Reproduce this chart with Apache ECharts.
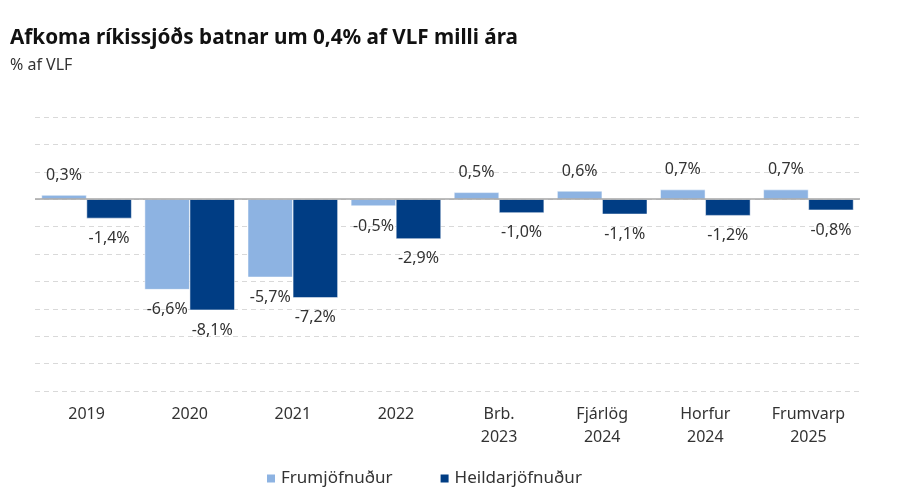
<!DOCTYPE html>
<html><head><meta charset="utf-8">
<script src="https://cdn.jsdelivr.net/npm/echarts@6/dist/echarts.min.js"></script>
<style>html,body{margin:0;padding:0;background:#fff}#c{width:900px;height:496px}</style>
</head><body><div id="c"></div>
<script>
const categories = ['2019', '2020', '2021', '2022', 'Brb.\n2023', 'Fjárlög\n2024', 'Horfur\n2024', 'Frumvarp\n2025'];
const frumjofnudur = [0.3, -6.6, -5.7, -0.5, 0.5, 0.6, 0.7, 0.7];
const heildarjofnudur = [-1.4, -8.1, -7.2, -2.9, -1.0, -1.1, -1.2, -0.8];
const seriesNames = ['Frumjöfnuður', 'Heildarjöfnuður'];
const FONT = '"Noto Sans", sans-serif';
const fmt = v => String(v.toFixed(1)).replace('.', ',') + '%';
const lbl = {
  show: true, fontFamily: FONT, fontSize: 16, color: '#333', distance: 12,
  formatter: p => fmt(p.value)
};
function mkData(arr) {
  return arr.map(v => ({ value: v, label: { position: v >= 0 ? 'top' : 'bottom' } }));
}
const chart = echarts.init(document.getElementById('c'));
chart.setOption({
  animation: false,
  title: [
    { text: 'Afkoma ríkissjóðs batnar um 0,4% af VLF milli ára', left: 5, top: 23,
      textStyle: { fontFamily: FONT, fontWeight: 'bold', fontSize: 20.7, color: '#111' } },
    { text: '% af VLF', left: 5, top: 52,
      textStyle: { fontFamily: FONT, fontWeight: 'normal', fontSize: 16, color: '#333' } }
  ],
  legend: {
    bottom: 4, left: 260, itemGap: 46, itemWidth: 10, itemHeight: 10, icon: 'rect',
    textStyle: { fontFamily: FONT, fontSize: 17, color: '#333' },
    data: seriesNames
  },
  grid: { left: 35, right: 40, top: 117, bottom: 105 },
  xAxis: {
    type: 'category', data: categories,
    axisLine: { show: false, onZero: false }, axisTick: { show: false },
    axisLabel: { fontFamily: FONT, fontSize: 16, color: '#333', margin: 12, lineHeight: 23 }
  },
  yAxis: {
    type: 'value', min: -14, max: 6, interval: 2,
    axisLabel: { show: false }, axisLine: { show: false }, axisTick: { show: false },
    splitLine: { lineStyle: { color: '#d9d9d9', type: [5, 4], width: 1 } }
  },
  series: [
    { name: seriesNames[0], type: 'bar', data: mkData(frumjofnudur), barGap: '0%', barCategoryGap: '12.6%',
      itemStyle: { color: '#8db3e2', borderColor: '#fff', borderWidth: 0.5 }, label: lbl,
      markLine: { silent: true, symbol: 'none', label: { show: false },
        lineStyle: { color: '#a6a6a6', type: 'solid', width: 1.5 }, data: [{ yAxis: 0 }] } },
    { name: seriesNames[1], type: 'bar', data: mkData(heildarjofnudur), barGap: '0%', barCategoryGap: '12.6%',
      itemStyle: { color: '#003d84', borderColor: '#fff', borderWidth: 0.5 }, label: lbl }
  ]
});
</script></body></html>
